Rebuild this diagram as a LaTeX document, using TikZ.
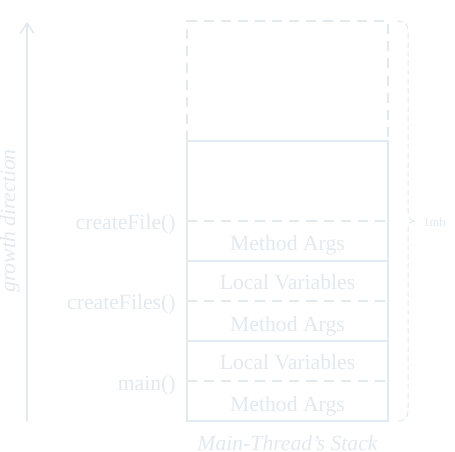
\documentclass[tikz,border=0pt]{standalone}
\usepackage{fontspec}
\setmainfont{Liberation Serif}
\usetikzlibrary{arrows.meta}
\definecolor{pale}{RGB}{226,233,239}
\begin{document}
\begin{tikzpicture}[x=0.0175cm,y=-0.0175cm,
  every node/.style={text=pale},
  frameline/.style={draw=pale,line width=0.8pt},
  sepline/.style={draw=pale,line width=0.8pt,dash pattern=on 5pt off 3.5pt},
  celltext/.style={anchor=base,inner sep=0pt,font=\fontsize{10.8}{12}\selectfont},
  calllabel/.style={anchor=base east,inner sep=0pt,font=\fontsize{10.8}{12}\selectfont},
  bracepath/.style={draw=pale,line width=0.5pt,dash pattern=on 3pt off 1.6pt}]
\useasboundingbox (0,0) rectangle (455,452);

% growth arrow
\coordinate (arrbot) at (27,421);
\coordinate (arrtop) at (27,22);
\draw[draw=pale,line width=0.8pt,-{Straight Barb[length=5pt,width=7pt]}] (arrbot) -- (arrtop);
\node[rotate=90,font=\fontsize{10.8}{12}\selectfont\itshape] (growth) at (10,221) {growth direction};

% reserved (unused) part of the stack
\coordinate (rtl) at (187,21);
\coordinate (rtr) at (388,21);
\coordinate (sbl) at (187,141);
\coordinate (sbr) at (388,141);
\draw[sepline] (sbl) -- (rtl) -- (rtr) -- (sbr);

% used part of the stack
\coordinate (btl) at (187,421);
\coordinate (btr) at (388,421);
\draw[frameline] (sbl) rectangle (btr);
\foreach \yy in {261,341}
  \draw[frameline] (187,\yy) -- (388,\yy);
\foreach \yy in {221,301,381}
  \draw[sepline] (187,\yy) -- (388,\yy);

% cell contents (placed by baseline)
\node[celltext] (ma1) at (287.5,251) {Method Args};
\node[celltext] (lv1) at (287.5,289) {Local Variables};
\node[celltext] (ma2) at (287.5,331) {Method Args};
\node[celltext] (lv2) at (287.5,369) {Local Variables};
\node[celltext] (ma3) at (287.5,411) {Method Args};

% frame labels
\node[calllabel] (f1) at (176,230) {createFile()};
\node[calllabel] (f2) at (176,310) {createFiles()};
\node[calllabel] (f3) at (176,390) {main()};

% caption
\node[anchor=base,inner sep=0pt,font=\fontsize{10.8}{12}\selectfont\itshape] (cap) at (287.5,450) {Main-Thread's Stack};

% size brace spanning the whole stack
\coordinate (bt) at (397,21);
\coordinate (bb) at (397,421);
\coordinate (btip) at (416,221);
\draw[bracepath] (bt) .. controls (404,21) and (408,24) .. (408,31) -- (408,213)
  .. controls (408,218) and (411,221) .. (btip)
  .. controls (411,221) and (408,224) .. (408,229) -- (408,411)
  .. controls (408,418) and (404,421) .. (bb);
\node[font=\fontsize{6.2}{7}\selectfont,anchor=base west,inner sep=0pt] (size) at (423,227) {1mb};
\end{tikzpicture}
\end{document}
